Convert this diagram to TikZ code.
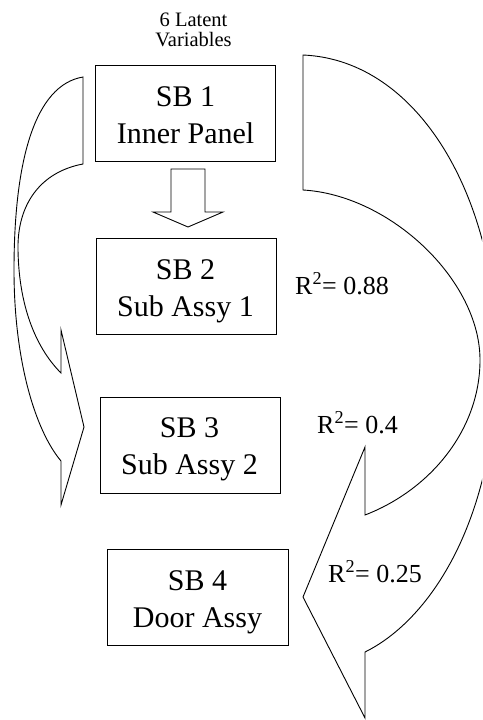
\documentclass[tikz,border=0pt]{standalone}
\usepackage{fontspec}
\setmainfont{Liberation Serif}
\begin{document}
\begin{tikzpicture}[x=1pt,y=-1pt,
  box/.style={draw,line width=0.9pt,minimum width=180pt,minimum height=96pt,inner sep=0pt},
  lbl/.style={align=center,inner sep=0pt,anchor=base,font=\fontsize{30}{36.5}\selectfont},
  rsq/.style={inner sep=0pt,anchor=base west,font=\fontsize{26}{30}\selectfont},
  small/.style={align=center,inner sep=0pt,anchor=base,font=\fontsize{20.5}{19.5}\selectfont},
  blk/.style={draw,line width=0.9pt,line join=miter}]
\path[use as bounding box] (0,0) rectangle (482,720);
\clip (0,0) rectangle (482,720);

% boxes
\node[box] (b1) at (185.5,113) {};
\node[box] (b2) at (186,286) {};
\node[box] (b3) at (190,445) {};
\node[box,minimum width=181pt] (b4) at (197.5,597) {};

% box texts (anchor = baseline of the last line)
\node[lbl] (t1) at (185.5,143) {SB 1\\Inner Panel};
\node[lbl] (t2) at (185.5,316) {SB 2\\Sub Assy 1};
\node[lbl] (t3) at (189.5,474) {SB 3\\Sub Assy 2};
\node[lbl] (t4) at (197.5,627) {SB 4\\Door Assy};

% top label
\node[small] (lv) at (193.5,46) {6 Latent\\Variables};

% R squared labels
\node[rsq] (r1) at (295,294) {R\textsuperscript{2}= 0.88};
\node[rsq] (r2) at (317,433) {R\textsuperscript{2}= 0.4};
\node[rsq] (r3) at (328,582) {R\textsuperscript{2}= 0.25};

% straight block arrow SB1 -> SB2
\draw[blk] (171,169) -- (205,169) -- (205,212) -- (223,212) -- (188,227)
  -- (153,212) -- (171,212) -- cycle;

% left curved block arrow SB1 -> SB3
\draw[blk] (83,77) .. controls (35,85) and (14,160) .. (14,270)
  .. controls (14,360) and (35,430) .. (61,461)
  -- (61,505) -- (84,427) -- (61,330) -- (61,373)
  .. controls (38,350) and (19,310) .. (18,250)
  .. controls (17,205) and (40,172) .. (83,164) -- cycle;

% right curved block arrow SB1 -> SB4
\draw[blk] (303,55) .. controls (420,60) and (497,200) .. (497,355)
  .. controls (497,520) and (430,620) .. (365,652)
  -- (365,718) -- (303,597) -- (365,447) -- (365,515)
  .. controls (430,490) and (480,430) .. (480,360)
  .. controls (480,280) and (390,195) .. (303,190) -- cycle;
\end{tikzpicture}
\end{document}
